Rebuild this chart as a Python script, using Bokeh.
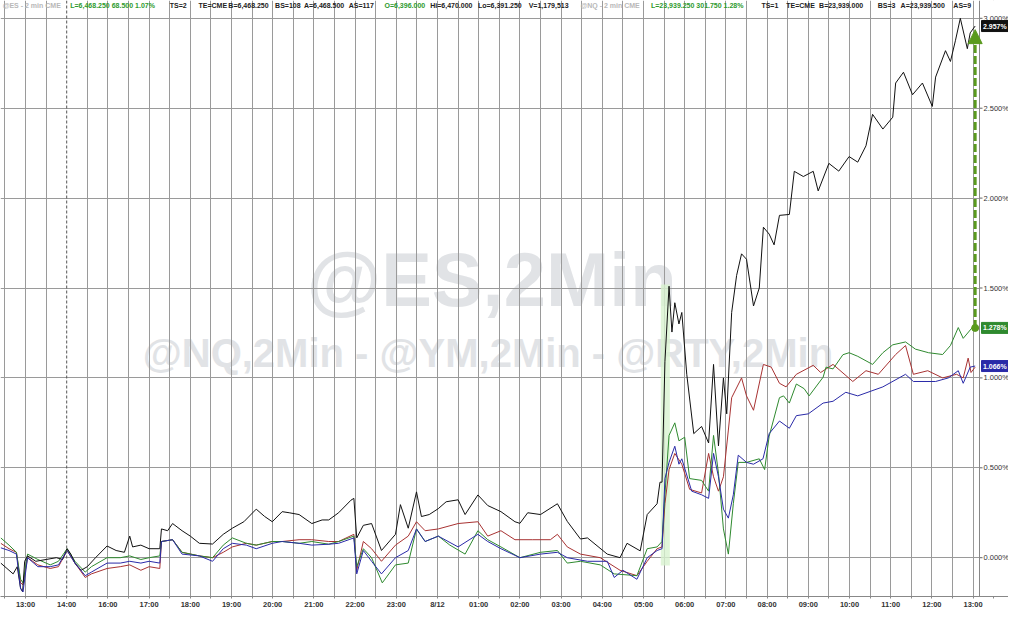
from bokeh.plotting import figure
from bokeh.models import Range1d, FixedTicker, Span, Arrow, NormalHead
from bokeh.core.properties import value
from bokeh.embed import file_html
from bokeh.resources import INLINE

# ---------------- data (x = hour-slot index, y = % change) ----------------
tick_labels = ["13:00", "14:00", "16:00", "17:00", "18:00", "19:00", "20:00", "21:00",
               "22:00", "23:00", "8/12", "01:00", "02:00", "03:00", "04:00", "05:00",
               "06:00", "07:00", "08:00", "09:00", "10:00", "11:00", "12:00", "13:00"]
y_ticks = [0.0, 0.5, 1.0, 1.5, 2.0, 2.5, 3.0]

rty_x = [-0.60, -0.45, -0.30, -0.20, -0.12, -0.07, -0.02, 0.05, 0.25, 0.50, 0.75, 0.90, 1.01, 1.10,
         1.20, 1.35, 1.50, 1.70, 1.98, 2.20, 2.40, 2.53, 2.60, 2.80, 3.00, 3.26, 3.30, 3.45, 3.57,
         3.80, 4.00, 4.22, 4.54, 4.80, 5.02, 5.30, 5.60, 5.80, 5.99, 6.23, 6.40, 6.64, 6.95, 7.20,
         7.36, 7.60, 7.90, 7.97, 8.04, 8.20, 8.40, 8.64, 8.98, 9.10, 9.29, 9.49, 9.61, 9.80, 10.02,
         10.21, 10.50, 10.67, 10.98, 11.22, 11.54, 11.88, 12.00, 12.19, 12.50, 12.91, 13.15, 13.47,
         13.64, 14.12, 14.43, 14.60, 14.92, 15.09, 15.33, 15.40, 15.45, 15.52, 15.62, 15.69, 15.76,
         15.86, 15.93, 16.05, 16.22, 16.41, 16.58, 16.70, 16.82, 16.94, 17.02, 17.14, 17.26, 17.38,
         17.50, 17.67, 17.81, 17.91, 18.05, 18.17, 18.30, 18.54, 18.66, 18.88, 19.12, 19.24, 19.50,
         19.74, 19.99, 20.20, 20.40, 20.56, 20.81, 21.05, 21.12, 21.31, 21.53, 21.77, 22.01, 22.09,
         22.33, 22.45, 22.57, 22.69, 22.86, 22.93, 23.05]
rty_y = [-0.03, -0.06, -0.09, -0.05, -0.17, -0.19, -0.02, 0.01, -0.02, -0.01, 0.00, -0.01, 0.05, 0.02,
         -0.03, -0.07, -0.05, 0.00, 0.065, 0.04, 0.03, 0.12, 0.06, 0.07, 0.05, 0.05, 0.16, 0.15, 0.19,
         0.15, 0.12, 0.08, 0.076, 0.13, 0.164, 0.20, 0.27, 0.23, 0.20, 0.256, 0.25, 0.24, 0.19, 0.21,
         0.21, 0.25, 0.32, 0.33, 0.11, 0.18, 0.19, 0.04, 0.13, 0.295, 0.164, 0.366, 0.229, 0.24, 0.273,
         0.311, 0.322, 0.24, 0.349, 0.29, 0.256, 0.20, 0.191, 0.25, 0.24, 0.30, 0.202, 0.104,
         0.11, 0.02, 0.00, 0.08, 0.038, 0.24, 0.30, 0.42, 0.42, 1.09, 1.51, 1.255, 1.418,
         1.30, 1.364, 1.02, 0.69, 0.73, 0.638, 1.075, 0.622, 1.00, 0.80, 1.364, 1.57, 1.69,
         1.66, 1.40, 1.50, 1.838, 1.80, 1.74, 1.904, 1.909, 2.149, 2.12, 2.149, 2.04, 2.193,
         2.15, 2.231, 2.20, 2.291, 2.466, 2.384, 2.45, 2.64, 2.70, 2.575, 2.64, 2.51, 2.673,
         2.82, 2.76, 2.875, 3.00, 2.831, 2.919, 2.957]

ym_pts = [(-0.60, 0.08), (-0.40, 0.05), (-0.22, 0.03), (-0.12, -0.14), (-0.06, -0.15), (0.05, 0.00),
          (0.30, -0.04), (0.60, -0.06), (0.80, -0.05), (1.01, 0.04), (1.20, -0.03), (1.45, -0.11),
          (1.60, -0.09), (1.98, -0.06), (2.30, -0.05), (2.53, -0.04), (2.80, -0.07), (3.00, -0.05),
          (3.26, -0.06), (3.30, 0.09), (3.57, 0.10), (3.80, 0.03), (4.22, 0.01), (4.54, 0.00),
          (4.80, 0.03), (5.02, 0.06), (5.36, 0.08), (5.60, 0.07), (5.99, 0.09), (6.23, 0.09),
          (6.64, 0.10), (6.95, 0.10), (7.36, 0.09), (7.60, 0.09), (7.97, 0.13), (8.04, -0.07),
          (8.20, 0.09), (8.40, 0.05), (8.64, -0.02), (8.98, 0.07), (9.29, 0.12), (9.49, 0.20),
          (9.70, 0.15), (10.02, 0.16), (10.50, 0.19), (10.98, 0.20), (11.22, 0.12), (11.54, 0.15),
          (11.88, 0.10), (12.30, 0.10), (12.74, 0.10), (12.91, 0.13), (13.15, 0.06), (13.47, 0.02),
          (13.95, 0.00), (14.43, -0.07), (14.84, -0.10), (15.09, -0.02), (15.33, 0.05), (15.45, 0.06),
          (15.52, 0.30), (15.62, 0.49), (15.76, 0.58), (15.93, 0.52), (16.12, 0.38), (16.41, 0.36),
          (16.58, 0.58), (16.70, 0.45), (16.82, 0.37), (16.94, 0.45), (17.06, 0.71), (17.14, 0.89),
          (17.38, 1.00), (17.50, 0.90), (17.67, 0.82), (17.91, 1.075), (18.10, 1.06), (18.30, 0.97),
          (18.46, 0.95), (18.71, 1.02), (19.12, 1.07), (19.30, 1.03), (19.60, 1.075), (20.08, 0.98),
          (20.40, 1.04), (20.70, 1.02), (21.12, 1.13), (21.36, 1.18), (21.55, 1.02), (21.90, 1.04),
          (22.26, 1.00), (22.60, 1.02), (22.76, 1.00), (22.88, 1.11), (22.95, 1.03), (23.05, 1.06)]

nq_pts = [(-0.60, 0.11), (-0.40, 0.07), (-0.22, 0.03), (-0.12, -0.12), (-0.06, -0.14), (0.05, 0.02),
          (0.30, -0.01), (0.60, -0.04), (0.80, -0.02), (1.01, 0.05), (1.20, -0.02), (1.45, -0.08),
          (1.60, -0.05), (1.98, 0.00), (2.30, 0.00), (2.53, 0.01), (2.80, -0.01), (3.00, 0.00),
          (3.26, 0.01), (3.30, 0.09), (3.57, 0.10), (3.80, 0.03), (4.22, 0.01), (4.54, 0.00),
          (4.80, 0.07), (5.02, 0.11), (5.36, 0.08), (5.60, 0.07), (5.99, 0.09), (6.23, 0.09),
          (6.64, 0.08), (6.95, 0.09), (7.36, 0.075), (7.60, 0.09), (7.97, 0.12), (8.04, -0.05),
          (8.20, 0.05), (8.40, 0.00), (8.66, -0.14), (8.98, -0.04), (9.29, -0.03), (9.49, 0.16),
          (9.70, 0.09), (10.02, 0.12), (10.30, 0.07), (10.67, 0.02), (10.98, 0.15), (11.22, 0.10),
          (11.54, 0.06), (12.00, 0.00), (12.50, 0.03), (12.91, 0.04), (13.15, -0.03), (13.47, -0.02),
          (13.95, -0.04), (14.29, -0.09), (14.84, -0.10), (15.09, 0.05), (15.33, 0.06), (15.45, 0.09),
          (15.52, 0.35), (15.62, 0.68), (15.76, 0.75), (15.86, 0.65), (16.00, 0.67), (16.12, 0.44),
          (16.41, 0.43), (16.58, 0.37), (16.70, 0.68), (16.82, 0.47), (16.94, 0.16), (17.06, 0.02),
          (17.18, 0.30), (17.30, 0.53), (17.50, 0.53), (17.81, 0.55), (17.94, 0.49), (18.05, 0.676),
          (18.30, 0.89), (18.40, 0.90), (18.54, 0.86), (18.71, 0.966), (18.90, 0.94), (19.02, 0.90),
          (19.36, 1.004), (19.43, 1.06), (19.60, 1.05), (19.84, 1.129), (19.99, 1.14), (20.20, 1.12),
          (20.56, 1.075), (20.81, 1.14), (21.05, 1.184), (21.36, 1.20), (21.60, 1.16), (21.92, 1.14),
          (22.26, 1.13), (22.45, 1.18), (22.64, 1.28), (22.76, 1.22), (22.98, 1.28), (23.05, 1.278)]

es_pts = [(-0.60, 0.055), (-0.40, 0.04), (-0.22, 0.02), (-0.12, -0.17), (-0.06, -0.19), (0.05, 0.00),
          (0.30, -0.05), (0.60, -0.05), (0.80, -0.04), (1.01, 0.04), (1.20, -0.03), (1.45, -0.10),
          (1.60, -0.08), (1.98, -0.03), (2.30, -0.03), (2.53, -0.02), (2.80, -0.03), (3.00, -0.02),
          (3.26, -0.03), (3.30, 0.09), (3.57, 0.10), (3.80, 0.02), (4.22, 0.01), (4.54, -0.02),
          (4.80, 0.05), (5.02, 0.08), (5.36, 0.07), (5.60, 0.05), (5.99, 0.08), (6.23, 0.09),
          (6.64, 0.08), (6.95, 0.07), (7.36, 0.075), (7.60, 0.08), (7.97, 0.11), (8.04, -0.09),
          (8.20, 0.04), (8.40, -0.02), (8.64, -0.09), (8.98, 0.00), (9.29, 0.04), (9.49, 0.16),
          (9.70, 0.09), (10.02, 0.12), (10.50, 0.06), (10.98, 0.13), (11.22, 0.09), (11.54, 0.05),
          (12.00, 0.00), (12.50, 0.02), (12.91, 0.03), (13.15, 0.00), (13.64, -0.02), (14.12, -0.02),
          (14.29, -0.11), (14.50, -0.07), (14.84, -0.12), (15.09, 0.00), (15.33, 0.04), (15.45, 0.05),
          (15.52, 0.44), (15.62, 0.53), (15.76, 0.62), (15.86, 0.52), (15.93, 0.55), (16.17, 0.37),
          (16.41, 0.35), (16.58, 0.33), (16.70, 0.58), (16.82, 0.45), (16.94, 0.27), (17.06, 0.22),
          (17.18, 0.35), (17.30, 0.57), (17.50, 0.53), (17.67, 0.52), (17.90, 0.55), (18.05, 0.69),
          (18.30, 0.76), (18.54, 0.72), (18.71, 0.79), (19.00, 0.80), (19.36, 0.86), (19.60, 0.87),
          (19.91, 0.92), (20.20, 0.90), (20.81, 0.95), (21.36, 1.02), (21.55, 0.98), (22.09, 0.98),
          (22.40, 1.00), (22.64, 1.04), (22.76, 0.97), (22.93, 1.06), (23.05, 1.066)]

highlight_x = (15.42, 15.64)     # shaded 2-min bar (hour-slot index)
highlight_y = (-0.044, 1.52)

last_labels = ["2.957%", "1.278%", "1.066%"]
last_values = [2.957, 1.278, 1.066]
last_colors = ["#111111", "#2f8a2f", "#2a2aa8"]

header = [("@ES - 2 min  CME", 2, "#b8b8b8"), ("L=6,468.250  68.500  1.07%", 70, "#2e9a2e"),
          ("TS=2", 170, "#222222"), ("TE=CME", 199, "#222222"), ("B=6,468.250", 229, "#222222"),
          ("BS=108", 276, "#222222"), ("A=6,468.500", 305, "#222222"), ("AS=117", 350, "#222222"),
          ("O=6,396.000", 386, "#2e9a2e"), ("Hi=6,470.000", 432, "#222222"),
          ("Lo=6,391.250", 480, "#222222"), ("V=1,179,513", 531, "#222222"),
          ("@NQ - 2 min  CME", 583, "#b8b8b8"), ("L=23,939.250  301.750  1.28%", 654, "#2e9a2e"),
          ("TS=1", 765, "#222222"), ("TE=CME", 790, "#222222"), ("B=23,939.000", 823, "#222222"),
          ("BS=3", 882, "#222222"), ("A=23,939.500", 905, "#222222"), ("AS=9", 958, "#222222")]

# ---------------- layout (figure pixels) ----------------
W, H = 1008, 611
BB = 12                         # bottom border for the time axis
X0, PXH = 25.0, 41.2            # pixel of first 13:00 slot, pixels per slot
Y0, PXP = 560.0, 180.7          # pixel of 0 %, pixels per 1 %
AXIS_PX = 979                   # pixel of the right value-axis line

def px2x(px):                   # reference picture pixel -> slot index
    return (px - 25.0) / 41.43
def py2y(py):                   # reference picture pixel -> percent
    return (567.0 - py) / 183.3
def fx(px):                     # figure pixel -> slot index
    return (px - X0) / PXH

FONT = "Liberation Sans"
x_lo, x_hi = fx(0), fx(W)
y_lo, y_hi = (Y0 - (H - BB)) / PXP, Y0 / PXP
p = figure(width=W, height=H, output_backend="svg", toolbar_location=None,
           x_range=Range1d(x_lo, x_hi), y_range=Range1d(y_lo, y_hi),
           min_border_left=0, min_border_top=0, min_border_right=0, min_border_bottom=BB)
p.yaxis.visible = False
p.background_fill_color = "white"
p.border_fill_color = "white"
p.outline_line_color = None

# grids
p.xgrid.ticker = FixedTicker(ticks=[i * 0.5 for i in range(-1, 48) if i != 2])
p.ygrid.ticker = FixedTicker(ticks=y_ticks)
for g in (p.xgrid, p.ygrid):
    g.grid_line_color = "#9a9a9a"
    g.grid_line_width = 1
p.add_layout(Span(location=1.0, dimension="height", line_color="#555555", line_dash="3 2", line_width=1))

# time axis
p.xaxis.ticker = FixedTicker(ticks=list(range(len(tick_labels))),
                             minor_ticks=[i + 0.5 for i in range(-1, len(tick_labels))])
p.xaxis.major_label_overrides = {i: t for i, t in enumerate(tick_labels)}
p.xaxis.axis_line_color = "#888888"
p.xaxis.major_tick_line_color = "#888888"
p.xaxis.minor_tick_line_color = "#888888"
p.xaxis.major_tick_in = 0
p.xaxis.minor_tick_in = 0
p.xaxis.major_tick_out = 2
p.xaxis.minor_tick_out = 2
p.xaxis.major_label_standoff = 1
p.xaxis.major_label_text_color = "#333333"
p.xaxis.major_label_text_font = FONT
p.xaxis.major_label_text_font_size = "7.5px"
p.xaxis.major_label_text_font_style = "bold"

# watermark
p.text(x=[px2x(494)], y=[py2y(283)], text=["@ES,2Min"], text_align="center", text_baseline="middle",
       text_font=value(FONT), text_font_style="bold", text_font_size="76px",
       text_color="#e1e3e6", level="image")
p.text(x=[px2x(490)], y=[py2y(358)], text=["@NQ,2Min - @YM,2Min - @RTY,2Min"], text_align="center",
       text_baseline="middle", text_font=value(FONT), text_font_style="bold",
       text_font_size="40px", text_color="#e1e3e6", level="image")

# value-axis strip on the right (covers the grid there)
ax_x = fx(AXIS_PX)
p.quad(left=[ax_x], right=[x_hi + 1], bottom=[y_lo - 1], top=[y_hi + 1], fill_color="white", line_color=None)
p.add_layout(Span(location=ax_x, dimension="height", line_color="#888888", line_width=1))
p.segment(x0=[ax_x] * len(y_ticks), x1=[fx(AXIS_PX + 3)] * len(y_ticks), y0=y_ticks, y1=y_ticks,
          line_color="#666666", line_width=1)
p.text(x=[fx(AXIS_PX + 4)] * len(y_ticks), y=y_ticks, text=["%.3f%%" % t for t in y_ticks],
       text_align="left", text_baseline="middle", text_font=value(FONT), text_font_size="7.5px",
       text_color="#333333")

# highlighted bar
p.quad(left=[highlight_x[0]], right=[highlight_x[1]], bottom=[highlight_y[0]], top=[highlight_y[1]],
       fill_color="#d8f2d0", fill_alpha=0.8, line_color=None)

# series
ym_x, ym_y = zip(*ym_pts)
nq_x, nq_y = zip(*nq_pts)
es_x, es_y = zip(*es_pts)
p.line(list(ym_x), list(ym_y), line_color="#a83232", line_width=1)
p.line(list(nq_x), list(nq_y), line_color="#2f8a2f", line_width=1)
p.line(rty_x, rty_y, line_color="#111111", line_width=1)
p.line(list(es_x), list(es_y), line_color="#2a2aa8", line_width=1)

# header
p.text(x=[px2x(h[1]) for h in header], y=[y_hi] * len(header), text=[h[0] for h in header],
       text_color=[h[2] for h in header], text_align="left", text_baseline="top", y_offset=1,
       text_font=value(FONT), text_font_size="7px", text_font_style="bold")

# arrow from NQ last to RTY last
ARROW_C = "#5a9a1e"
p.add_layout(Arrow(end=NormalHead(size=14, fill_color=ARROW_C, line_color=ARROW_C),
                   x_start=nq_x[-1], y_start=nq_y[-1], x_end=nq_x[-1], y_end=rty_y[-1] - 0.02,
                   line_color=ARROW_C, line_width=3, line_dash="8 3"))
p.scatter([nq_x[-1]], [nq_y[-1]], size=7, color=ARROW_C)

# last-value boxes on the value axis
p.rect(x=[fx(AXIS_PX + 15.5)] * 3, y=last_values, width=27, height=11, width_units="screen",
       height_units="screen", fill_color=last_colors, line_color=last_colors)
p.text(x=[fx(AXIS_PX + 3.5)] * 3, y=last_values, text=last_labels, text_align="left",
       text_baseline="middle", text_font=value(FONT), text_font_size="7px", text_font_style="bold",
       text_color="white")

open("out.html", "w").write(file_html(p, INLINE, "chart"))
